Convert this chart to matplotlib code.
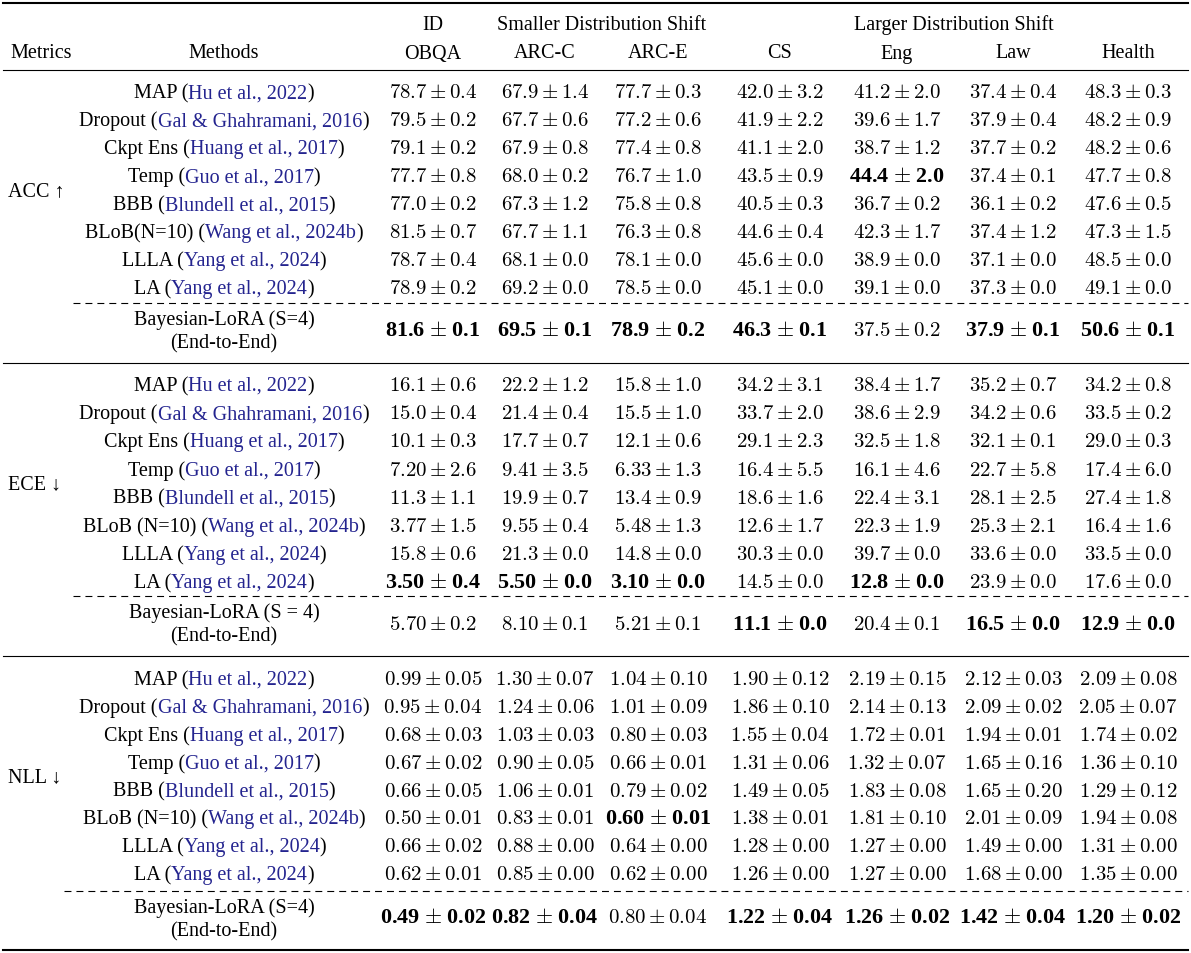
import matplotlib
matplotlib.use("Agg")
import matplotlib.pyplot as plt

plt.rcParams['font.family'] = ['Liberation Serif', 'DejaVu Serif']
plt.rcParams['mathtext.fontset'] = 'cm'
plt.rcParams['lines.scale_dashes'] = False

# table content
columns = ["OBQA", "ARC-C", "ARC-E", "CS", "Eng", "Law", "Health"]
metrics = ["ACC \u2191", "ECE \u2193", "NLL \u2193"]

acc_methods = ["MAP", "Dropout", "Ckpt Ens", "Temp", "BBB", "BLoB(N=10)", "LLLA", "LA"]
other_methods = ["MAP", "Dropout", "Ckpt Ens", "Temp", "BBB", "BLoB (N=10)", "LLLA", "LA"]
cites = ["Hu et al., 2022", "Gal & Ghahramani, 2016", "Huang et al., 2017",
         "Guo et al., 2017", "Blundell et al., 2015", "Wang et al., 2024b",
         "Yang et al., 2024", "Yang et al., 2024"]
ours = ["Bayesian-LoRA (S=4)", "Bayesian-LoRA (S = 4)", "Bayesian-LoRA (S=4)"]

acc = [
    ["78.7±0.4", "67.9±1.4", "77.7±0.3", "42.0±3.2", "41.2±2.0", "37.4±0.4", "48.3±0.3"],
    ["79.5±0.2", "67.7±0.6", "77.2±0.6", "41.9±2.2", "39.6±1.7", "37.9±0.4", "48.2±0.9"],
    ["79.1±0.2", "67.9±0.8", "77.4±0.8", "41.1±2.0", "38.7±1.2", "37.7±0.2", "48.2±0.6"],
    ["77.7±0.8", "68.0±0.2", "76.7±1.0", "43.5±0.9", "44.4±2.0", "37.4±0.1", "47.7±0.8"],
    ["77.0±0.2", "67.3±1.2", "75.8±0.8", "40.5±0.3", "36.7±0.2", "36.1±0.2", "47.6±0.5"],
    ["81.5±0.7", "67.7±1.1", "76.3±0.8", "44.6±0.4", "42.3±1.7", "37.4±1.2", "47.3±1.5"],
    ["78.7±0.4", "68.1±0.0", "78.1±0.0", "45.6±0.0", "38.9±0.0", "37.1±0.0", "48.5±0.0"],
    ["78.9±0.2", "69.2±0.0", "78.5±0.0", "45.1±0.0", "39.1±0.0", "37.3±0.0", "49.1±0.0"],
    ["81.6±0.1", "69.5±0.1", "78.9±0.2", "46.3±0.1", "37.5±0.2", "37.9±0.1", "50.6±0.1"],
]
ece = [
    ["16.1±0.6", "22.2±1.2", "15.8±1.0", "34.2±3.1", "38.4±1.7", "35.2±0.7", "34.2±0.8"],
    ["15.0±0.4", "21.4±0.4", "15.5±1.0", "33.7±2.0", "38.6±2.9", "34.2±0.6", "33.5±0.2"],
    ["10.1±0.3", "17.7±0.7", "12.1±0.6", "29.1±2.3", "32.5±1.8", "32.1±0.1", "29.0±0.3"],
    ["7.20±2.6", "9.41±3.5", "6.33±1.3", "16.4±5.5", "16.1±4.6", "22.7±5.8", "17.4±6.0"],
    ["11.3±1.1", "19.9±0.7", "13.4±0.9", "18.6±1.6", "22.4±3.1", "28.1±2.5", "27.4±1.8"],
    ["3.77±1.5", "9.55±0.4", "5.48±1.3", "12.6±1.7", "22.3±1.9", "25.3±2.1", "16.4±1.6"],
    ["15.8±0.6", "21.3±0.0", "14.8±0.0", "30.3±0.0", "39.7±0.0", "33.6±0.0", "33.5±0.0"],
    ["3.50±0.4", "5.50±0.0", "3.10±0.0", "14.5±0.0", "12.8±0.0", "23.9±0.0", "17.6±0.0"],
    ["5.70±0.2", "8.10±0.1", "5.21±0.1", "11.1±0.0", "20.4±0.1", "16.5±0.0", "12.9±0.0"],
]
nll = [
    ["0.99±0.05", "1.30±0.07", "1.04±0.10", "1.90±0.12", "2.19±0.15", "2.12±0.03", "2.09±0.08"],
    ["0.95±0.04", "1.24±0.06", "1.01±0.09", "1.86±0.10", "2.14±0.13", "2.09±0.02", "2.05±0.07"],
    ["0.68±0.03", "1.03±0.03", "0.80±0.03", "1.55±0.04", "1.72±0.01", "1.94±0.01", "1.74±0.02"],
    ["0.67±0.02", "0.90±0.05", "0.66±0.01", "1.31±0.06", "1.32±0.07", "1.65±0.16", "1.36±0.10"],
    ["0.66±0.05", "1.06±0.01", "0.79±0.02", "1.49±0.05", "1.83±0.08", "1.65±0.20", "1.29±0.12"],
    ["0.50±0.01", "0.83±0.01", "0.60±0.01", "1.38±0.01", "1.81±0.10", "2.01±0.09", "1.94±0.08"],
    ["0.66±0.02", "0.88±0.00", "0.64±0.00", "1.28±0.00", "1.27±0.00", "1.49±0.00", "1.31±0.00"],
    ["0.62±0.01", "0.85±0.00", "0.62±0.00", "1.26±0.00", "1.27±0.00", "1.68±0.00", "1.35±0.00"],
    ["0.49±0.02", "0.82±0.04", "0.80±0.04", "1.22±0.04", "1.26±0.02", "1.42±0.04", "1.20±0.02"],
]
# best entries (row, col) shown in bold
acc_best = [(3, 4), (8, 0), (8, 1), (8, 2), (8, 3), (8, 5), (8, 6)]
ece_best = [(7, 0), (7, 1), (7, 2), (7, 4), (8, 3), (8, 5), (8, 6)]
nll_best = [(5, 2), (8, 0), (8, 1), (8, 3), (8, 4), (8, 5), (8, 6)]

# layout (pixel coordinates)
FS = 14.5
CITE = '#24248f'
col_x = [433, 545, 658, 780, 897, 1013, 1128]
meth_x = 224
blocks = [
    # first baseline, row step, ours lines, ours value baseline, dashed y, dash start, metric baseline
    dict(y0=98.3, step=28.0, l1=325, l2=348, val=336.5, dash=304, dx=73, my=196.5),
    dict(y0=391.0, step=28.2, l1=618, l2=641, val=630, dash=597, dx=73, my=489),
    dict(y0=685.0, step=27.9, l1=913, l2=936, val=923, dash=891.5, dx=64, my=782.5),
]

fig = plt.figure(figsize=(11.91, 9.54), dpi=100)
ax = fig.add_axes([0, 0, 1, 1])
ax.set_xlim(0, 1191)
ax.set_ylim(954, 0)
ax.axis('off')
renderer = fig.canvas.get_renderer()


def rich(x, y, parts):
    texts = [ax.text(0, y, s, color=c, fontsize=FS, ha='left', va='baseline') for s, c in parts]
    widths = [t.get_window_extent(renderer).width for t in texts]
    left = x - sum(widths) / 2
    for t, w in zip(texts, widths):
        t.set_x(left)
        left += w


def cell(x, y, s, bold):
    m, e = s.split('±')
    if bold:
        ax.text(x, y, r"%s $\pm$ %s" % (m, e), fontsize=FS + 1.4, fontweight='bold',
                family='Liberation Serif', ha='center', va='baseline')
    else:
        ax.text(x, y, r'$%s\pm%s$' % (m, e), fontsize=FS + 0.5, ha='center', va='baseline')


# rules
ax.plot([3, 1188], [4, 4], color='black', lw=1.5)
ax.plot([3, 1188], [70.5, 70.5], color='black', lw=0.8)
ax.plot([3, 1188], [364, 364], color='black', lw=0.8)
ax.plot([3, 1188], [656.5, 656.5], color='black', lw=0.8)
ax.plot([3, 1188], [951, 951], color='black', lw=1.5)

# header
ax.text(10, 58.5, "Metrics", fontsize=FS, ha='left', va='baseline')
ax.text(meth_x, 58.5, "Methods", fontsize=FS, ha='center', va='baseline')
ax.text(col_x[0], 30, "ID", fontsize=FS, ha='center', va='baseline')
ax.text((col_x[1] + col_x[2]) / 2, 30, "Smaller Distribution Shift", fontsize=FS, ha='center', va='baseline')
ax.text((col_x[3] + col_x[6]) / 2, 30, "Larger Distribution Shift", fontsize=FS, ha='center', va='baseline')
for x, c in zip(col_x, columns):
    ax.text(x, 58.5, c, fontsize=FS, ha='center', va='baseline')

tables = [acc, ece, nll]
bests = [acc_best, ece_best, nll_best]
for k, (b, data, best) in enumerate(zip(blocks, tables, bests)):
    names = acc_methods if k == 0 else other_methods
    ax.text(8, b['my'], metrics[k], fontsize=FS, ha='left', va='baseline')
    for i, (name, cite) in enumerate(zip(names, cites)):
        y = b['y0'] + i * b['step']
        rich(meth_x, y, [(name + " (", 'black'), (cite, CITE), (")", 'black')])
        for j, x in enumerate(col_x):
            cell(x, y, data[i][j], (i, j) in best)
    ax.plot([b['dx'], 1188], [b['dash'], b['dash']], color='black', lw=0.8,
            linestyle=(0, (5, 3.6)))
    ax.text(meth_x, b['l1'], ours[k], fontsize=FS, ha='center', va='baseline')
    ax.text(meth_x, b['l2'], "(End-to-End)", fontsize=FS, ha='center', va='baseline')
    for j, x in enumerate(col_x):
        cell(x, b['val'], data[8][j], (8, j) in best)

fig.savefig("out.png", dpi=100)
